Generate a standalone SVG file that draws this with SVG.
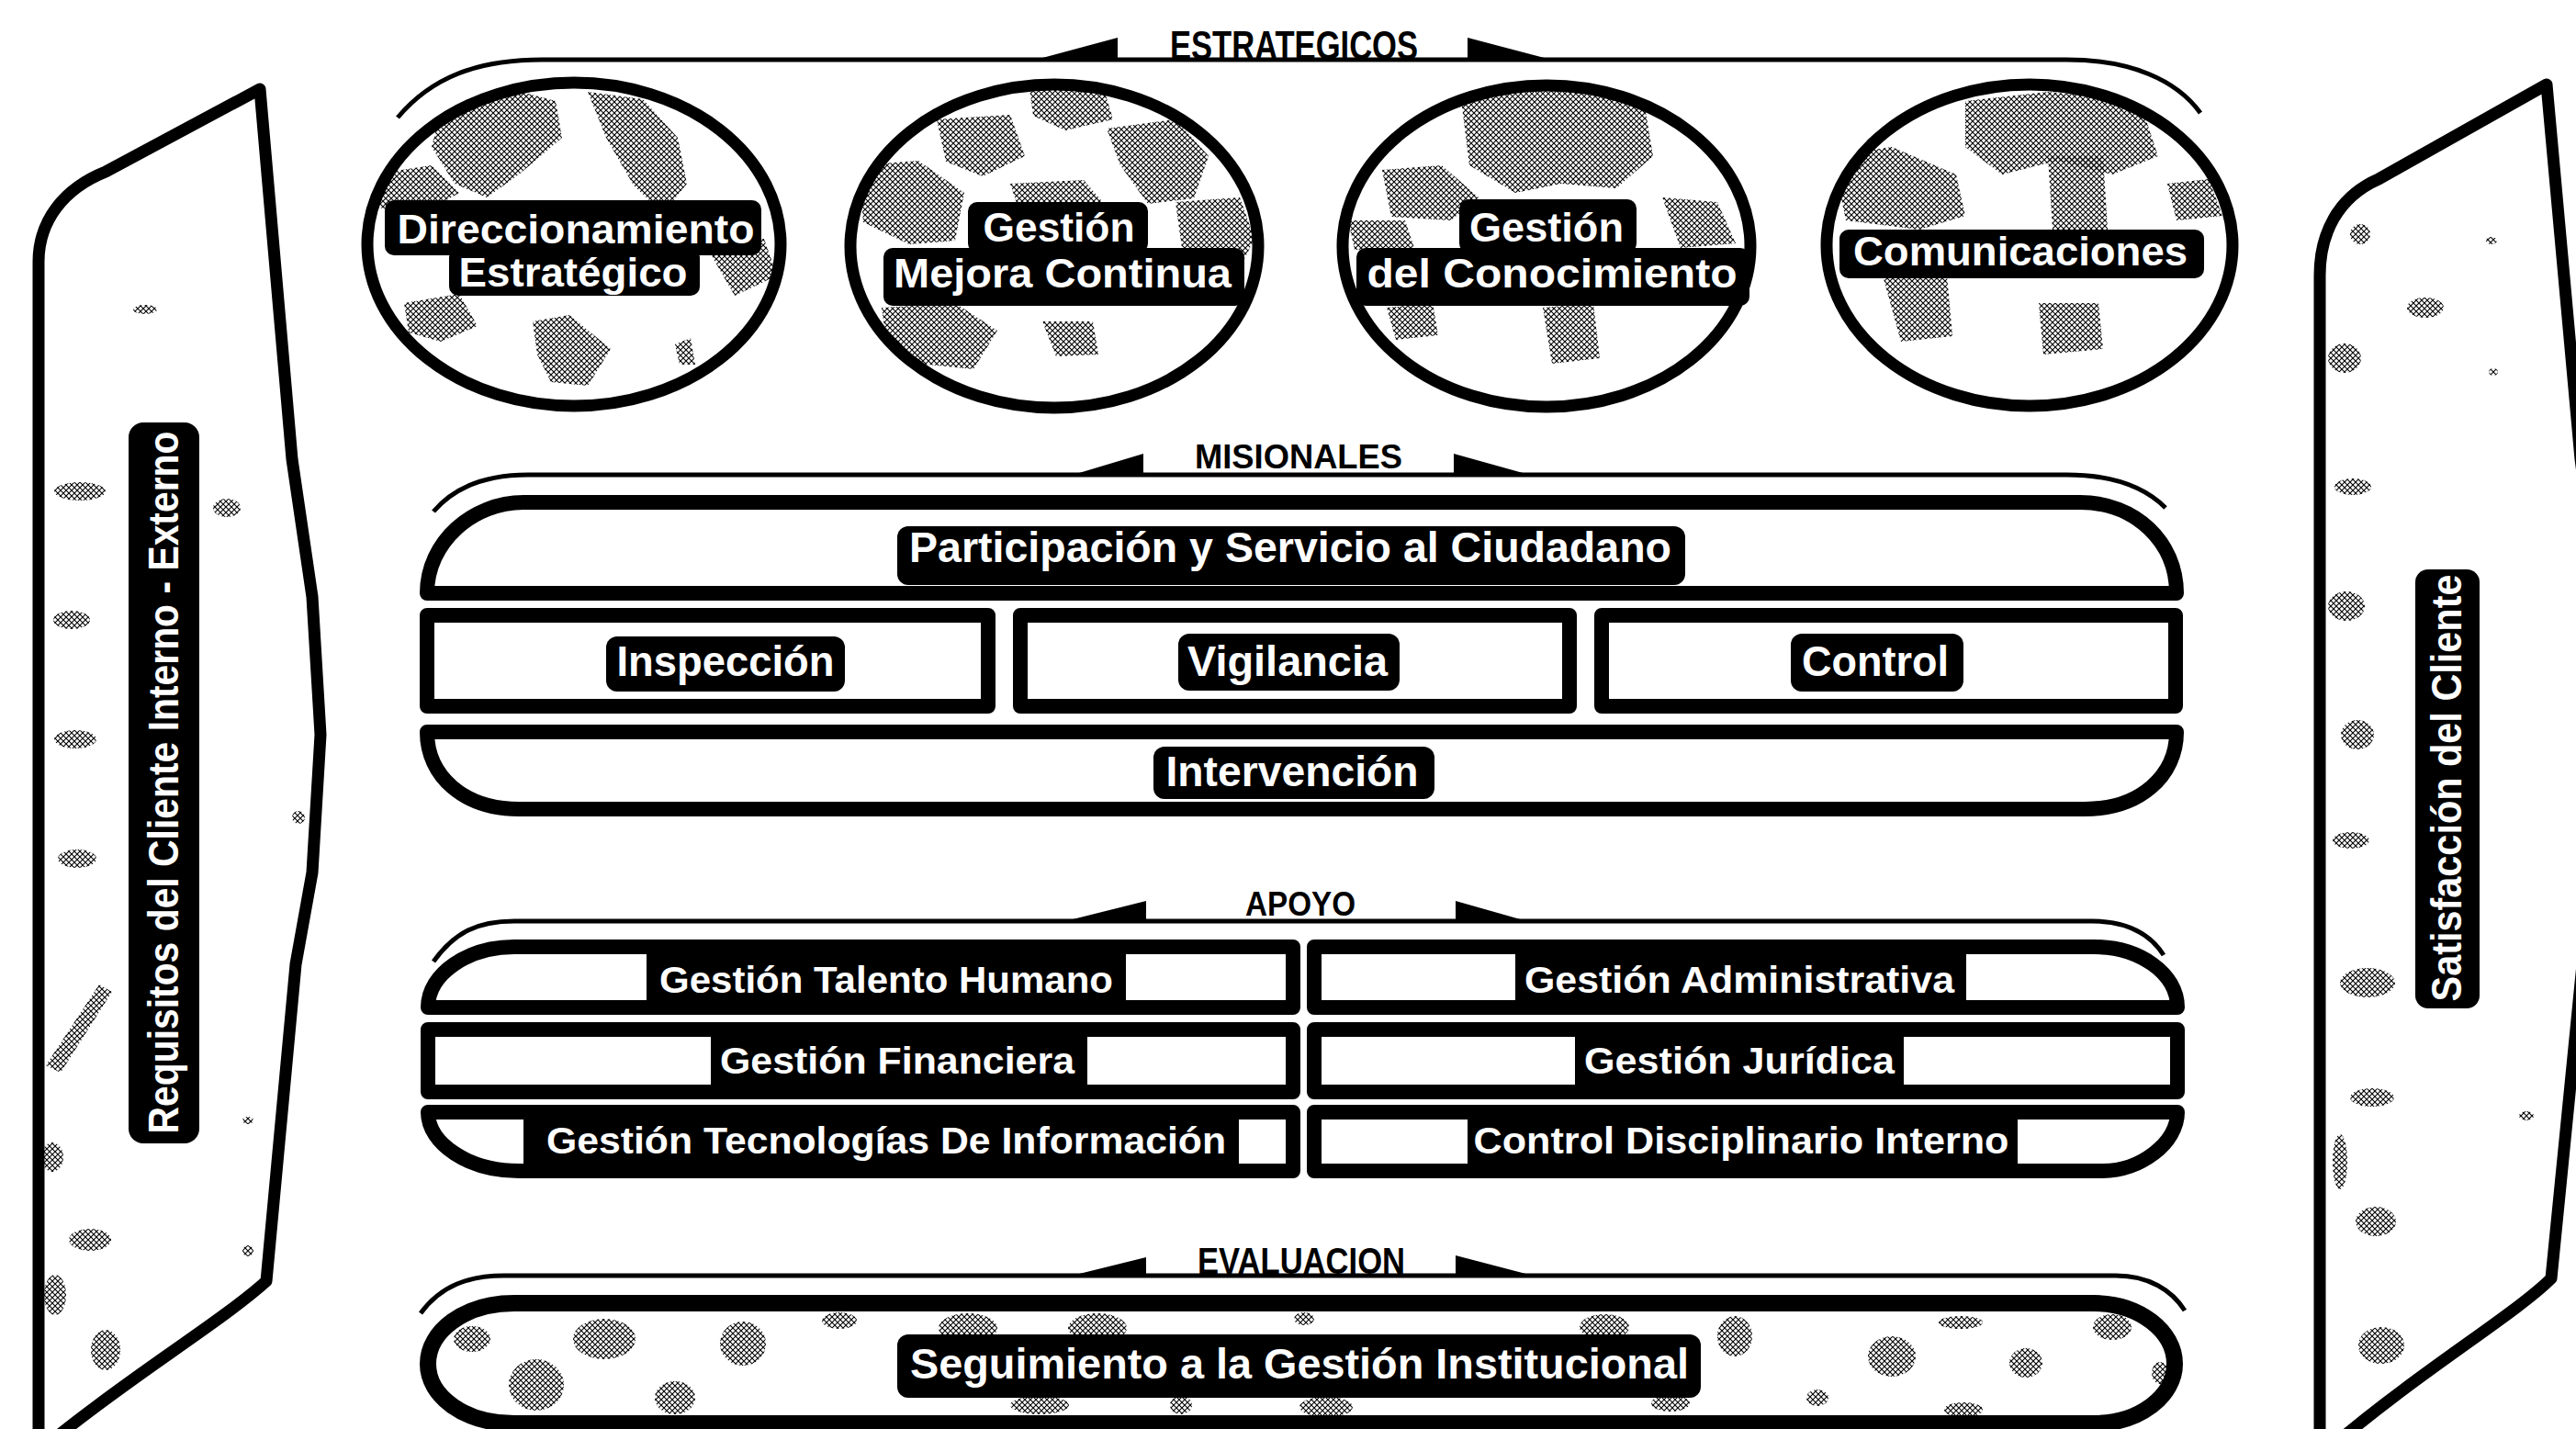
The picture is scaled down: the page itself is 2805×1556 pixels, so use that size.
<svg xmlns="http://www.w3.org/2000/svg" width="2805" height="1556" viewBox="0 0 2805 1556">
<defs>
<pattern id="dith" width="6" height="6" patternUnits="userSpaceOnUse"><path d="M0 0L6 6M6 0L0 6" stroke="#000" stroke-width="1.1"/></pattern>
<clipPath id="c1"><ellipse cx="625" cy="266" rx="225" ry="176"/></clipPath>
<clipPath id="c2"><ellipse cx="1148" cy="268" rx="222" ry="176"/></clipPath>
<clipPath id="c3"><ellipse cx="1684" cy="268" rx="222" ry="175"/></clipPath>
<clipPath id="c4"><ellipse cx="2210" cy="267" rx="221" ry="175"/></clipPath>
<clipPath id="cev"><path d="M560 1419 H2280 C2330 1419 2368 1450 2368 1485 C2368 1520 2330 1550 2280 1550 H560 C505 1550 466 1520 466 1485 C466 1450 505 1419 560 1419 Z"/></clipPath>
</defs>
<style>
.ds{fill:url(#dith)}
.bx{fill:#fff;stroke:#000;stroke-width:16;stroke-linejoin:round}
.ov{fill:none;stroke:#000;stroke-width:13}
.wf{fill:#fff}
.lb{fill:#000}
.t{font-family:"Liberation Sans",Arial,sans-serif;font-weight:700;fill:#fff;text-anchor:middle}
.f44{font-size:44px}
.f46{font-size:46px}
.f40{font-size:40px}
.s{font-family:"Liberation Sans",Arial,sans-serif;font-weight:700;fill:#000;text-anchor:middle}
.br{fill:none;stroke:#000;stroke-width:5}
.wg{fill:#000}
.side{fill:#fff;stroke:#000;stroke-width:13;stroke-linejoin:round}
</style>
<rect width="2805" height="1556" fill="#fff"/>

<!-- Left side: client requirements -->
<g id="cliente-requisitos">
<path class="side" d="M42 1570 V285 C42 240 70 205 115 187 L283 97 L318 500 L340 650 L349 800 L340 950 L322 1050 L290 1395 C240 1440 140 1500 55 1570"/>
<g class="ds">
<ellipse cx="87" cy="535" rx="28" ry="10"/><ellipse cx="78" cy="675" rx="20" ry="10"/><ellipse cx="82" cy="805" rx="23" ry="10"/><ellipse cx="84" cy="935" rx="21" ry="10"/>
<path d="M50 1160 L108 1072 L122 1080 L66 1168 Z"/><ellipse cx="57" cy="1260" rx="12" ry="16"/><ellipse cx="98" cy="1350" rx="23" ry="12"/><ellipse cx="60" cy="1410" rx="12" ry="22"/><ellipse cx="115" cy="1470" rx="16" ry="22"/>
<ellipse cx="158" cy="337" rx="13" ry="5"/><ellipse cx="247" cy="553" rx="15" ry="10"/><ellipse cx="325" cy="890" rx="7" ry="7"/><ellipse cx="270" cy="1220" rx="6" ry="4"/><ellipse cx="270" cy="1362" rx="6" ry="6"/>
</g>
<rect class="lb" x="140" y="460" width="77" height="785" rx="16"/>
<text class="t" font-size="46" textLength="765" lengthAdjust="spacingAndGlyphs" transform="translate(194 852) rotate(-90)">Requisitos del Cliente Interno - Externo</text>
</g>

<!-- Right side: client satisfaction -->
<g id="cliente-satisfaccion">
<path class="side" d="M2526 1570 V300 C2526 255 2545 215 2590 195 L2773 92 L2810 500 L2830 650 L2838 800 L2830 950 L2812 1050 L2778 1392 C2740 1430 2640 1490 2545 1570"/>
<g class="ds">
<ellipse cx="2553" cy="390" rx="18" ry="16"/><ellipse cx="2562" cy="530" rx="20" ry="9"/><ellipse cx="2555" cy="660" rx="20" ry="16"/><ellipse cx="2567" cy="800" rx="18" ry="16"/><ellipse cx="2560" cy="915" rx="20" ry="9"/>
<ellipse cx="2578" cy="1070" rx="30" ry="16"/><ellipse cx="2583" cy="1195" rx="24" ry="10"/><ellipse cx="2548" cy="1265" rx="8" ry="30"/><ellipse cx="2587" cy="1330" rx="22" ry="16"/><ellipse cx="2593" cy="1465" rx="25" ry="20"/>
<ellipse cx="2641" cy="335" rx="20" ry="11"/><ellipse cx="2570" cy="255" rx="11" ry="11"/><ellipse cx="2713" cy="262" rx="6" ry="4"/><ellipse cx="2751" cy="1215" rx="8" ry="5"/><ellipse cx="2715" cy="405" rx="5" ry="4"/>
</g>
<rect class="lb" x="2630" y="620" width="70" height="478" rx="14"/>
<text class="t" font-size="46" textLength="465" lengthAdjust="spacingAndGlyphs" transform="translate(2680 858) rotate(-90)">Satisfacción del Cliente</text>
</g>

<!-- Section brackets -->
<g id="connectors">
<path class="br" d="M433 128 C470 84 520 65 590 65 H2250 C2320 65 2370 87 2396 123"/>
<polygon class="wg" points="1124,66 1217,41 1217,66"/>
<polygon class="wg" points="1598,41 1598,66 1693,66"/>
<path class="br" d="M472 557 C495 530 530 517 575 517 H2250 C2300 517 2335 530 2358 553"/>
<polygon class="wg" points="1165,518 1245,494 1245,518"/>
<polygon class="wg" points="1583,494 1583,518 1669,518"/>
<path class="br" d="M472 1047 C495 1015 520 1003 560 1003 H2278 C2315 1003 2340 1015 2356 1040"/>
<polygon class="wg" points="1156,1004 1248,981 1248,1004"/>
<polygon class="wg" points="1585,981 1585,1004 1666,1004"/>
<path class="br" d="M458 1430 C480 1400 510 1389 549 1389 H2304 C2340 1389 2365 1405 2379 1427"/>
<polygon class="wg" points="1163,1390 1248,1369 1248,1390"/>
<polygon class="wg" points="1585,1367 1585,1390 1673,1390"/>
</g>

<!-- Section titles -->
<g id="titulos">
<text class="s" x="1409" y="65" font-size="44" textLength="270" lengthAdjust="spacingAndGlyphs">ESTRATEGICOS</text>
<text class="s" x="1414" y="510" font-size="36" textLength="226" lengthAdjust="spacingAndGlyphs">MISIONALES</text>
<text class="s" x="1416" y="997" font-size="36" textLength="120" lengthAdjust="spacingAndGlyphs">APOYO</text>
<text class="s" x="1417" y="1387" font-size="40" textLength="226" lengthAdjust="spacingAndGlyphs">EVALUACION</text>
</g>

<!-- Strategic processes -->
<g id="direccionamiento-estrategico">
<ellipse class="wf" cx="625" cy="266" rx="225" ry="176"/>
<g class="ds" clip-path="url(#c1)">
<polygon points="480,120 560,98 605,110 612,150 565,190 530,215 495,200 470,160"/>
<polygon points="640,100 700,108 738,150 748,200 722,232 690,202 660,150"/>
<polygon points="405,190 470,180 500,210 462,232 402,225"/>
<polygon points="580,350 620,343 665,380 640,420 600,416 585,386"/>
<polygon points="440,330 500,320 520,355 480,372 445,362"/>
<polygon points="770,270 832,260 846,300 800,322"/>
<polygon points="735,375 752,368 757,397 740,397"/>
</g>
<ellipse class="ov" cx="625" cy="266" rx="225" ry="176"/>
<rect class="lb" x="419" y="218" width="410" height="60" rx="10"/>
<rect class="lb" x="489" y="270" width="273" height="52" rx="10"/>
<text class="t f44" x="627" y="265" textLength="389" lengthAdjust="spacingAndGlyphs">Direccionamiento</text>
<text class="t f44" x="624" y="312" textLength="249" lengthAdjust="spacingAndGlyphs">Estratégico</text>
</g>

<g id="gestion-mejora-continua">
<ellipse class="wf" cx="1148" cy="268" rx="222" ry="176"/>
<g class="ds" clip-path="url(#c2)">
<polygon points="1120,88 1200,90 1212,130 1160,142 1125,126"/>
<polygon points="1020,130 1100,125 1116,170 1070,192 1030,176"/>
<polygon points="1205,140 1280,130 1316,170 1300,216 1250,222 1220,180"/>
<polygon points="935,180 1000,175 1050,210 1040,262 990,266 940,242"/>
<polygon points="960,335 1040,330 1086,360 1060,402 1000,396 965,370"/>
<polygon points="1135,350 1190,350 1196,386 1150,388"/>
<polygon points="1280,220 1350,215 1366,260 1345,302 1290,292"/>
<polygon points="1100,200 1180,196 1205,225 1110,230"/>
</g>
<ellipse class="ov" cx="1148" cy="268" rx="222" ry="176"/>
<rect class="lb" x="1054" y="220" width="196" height="55" rx="10"/>
<rect class="lb" x="962" y="270" width="393" height="63" rx="10"/>
<text class="t f44" x="1153" y="263" textLength="165" lengthAdjust="spacingAndGlyphs">Gestión</text>
<text class="t f44" x="1157" y="313" textLength="368" lengthAdjust="spacingAndGlyphs">Mejora Continua</text>
</g>

<g id="gestion-conocimiento">
<ellipse class="wf" cx="1684" cy="268" rx="222" ry="175"/>
<g class="ds" clip-path="url(#c3)">
<polygon points="1590,100 1700,92 1790,110 1800,170 1760,205 1700,200 1650,210 1600,180"/>
<polygon points="1505,185 1570,180 1610,215 1580,240 1515,236"/>
<polygon points="1810,215 1870,220 1890,265 1830,270"/>
<polygon points="1468,240 1530,240 1540,270 1475,272"/>
<polygon points="1680,335 1735,330 1742,390 1690,396"/>
<polygon points="1510,335 1560,330 1566,365 1520,370"/>
</g>
<ellipse class="ov" cx="1684" cy="268" rx="222" ry="175"/>
<rect class="lb" x="1589" y="217" width="193" height="58" rx="10"/>
<rect class="lb" x="1477" y="270" width="428" height="63" rx="10"/>
<text class="t f44" x="1684" y="263" textLength="168" lengthAdjust="spacingAndGlyphs">Gestión</text>
<text class="t f44" x="1690" y="313" textLength="403" lengthAdjust="spacingAndGlyphs">del Conocimiento</text>
</g>

<g id="comunicaciones">
<ellipse class="wf" cx="2210" cy="267" rx="221" ry="175"/>
<g class="ds" clip-path="url(#c4)">
<polygon points="2140,110 2230,100 2330,110 2350,170 2300,190 2240,175 2180,190 2140,160"/>
<polygon points="1995,170 2060,160 2130,190 2140,235 2090,250 2010,240"/>
<polygon points="2360,200 2405,195 2420,235 2370,240"/>
<polygon points="2230,170 2290,170 2295,250 2235,250"/>
<polygon points="2050,300 2120,300 2126,366 2070,372"/>
<polygon points="2220,330 2285,330 2290,380 2225,386"/>
</g>
<ellipse class="ov" cx="2210" cy="267" rx="221" ry="175"/>
<rect class="lb" x="2003" y="250" width="397" height="53" rx="10"/>
<text class="t f44" x="2200" y="289" textLength="364" lengthAdjust="spacingAndGlyphs">Comunicaciones</text>
</g>

<!-- Mission processes -->
<g id="participacion-servicio-ciudadano">
<path class="bx" d="M465 646 C465 590 515 547 570 547 H2265 C2325 547 2370 590 2370 646 Z"/>
<rect class="lb" x="977" y="573" width="858" height="64" rx="12"/>
<text class="t f46" x="1405" y="612" textLength="830" lengthAdjust="spacingAndGlyphs">Participación y Servicio al Ciudadano</text>
</g>
<g id="inspeccion">
<rect class="bx" x="465" y="670" width="611" height="99"/>
<rect class="lb" x="660" y="693" width="260" height="60" rx="12"/>
<text class="t f46" x="790" y="736" textLength="237" lengthAdjust="spacingAndGlyphs">Inspección</text>
</g>
<g id="vigilancia">
<rect class="bx" x="1111" y="670" width="598" height="99"/>
<rect class="lb" x="1283" y="690" width="241" height="62" rx="12"/>
<text class="t f46" x="1402" y="736" textLength="218" lengthAdjust="spacingAndGlyphs">Vigilancia</text>
</g>
<g id="control">
<rect class="bx" x="1744" y="670" width="625" height="99"/>
<rect class="lb" x="1950" y="690" width="188" height="63" rx="12"/>
<text class="t f46" x="2042" y="736" textLength="160" lengthAdjust="spacingAndGlyphs">Control</text>
</g>
<g id="intervencion">
<path class="bx" d="M465 797 H2370 C2370 845 2330 881 2270 881 H565 C505 881 465 845 465 797 Z"/>
<rect class="lb" x="1256" y="813" width="306" height="57" rx="12"/>
<text class="t f46" x="1407" y="856" textLength="275" lengthAdjust="spacingAndGlyphs">Intervención</text>
</g>

<!-- Support processes -->
<g id="gestion-talento-humano">
<path class="bx" d="M1408 1031 H560 C510 1031 466 1060 466 1097 H1408 Z"/>
<rect class="lb" x="704" y="1031" width="522" height="66"/>
<text class="t f40" x="965" y="1081" textLength="494" lengthAdjust="spacingAndGlyphs">Gestión Talento Humano</text>
</g>
<g id="gestion-financiera">
<rect class="bx" x="466" y="1121" width="942" height="68"/>
<rect class="lb" x="774" y="1121" width="410" height="68"/>
<text class="t f40" x="977" y="1169" textLength="386" lengthAdjust="spacingAndGlyphs">Gestión Financiera</text>
</g>
<g id="gestion-tecnologias-informacion">
<path class="bx" d="M1408 1211 H466 C466 1245 510 1275 565 1275 H1408 Z"/>
<rect class="lb" x="570" y="1211" width="779" height="64"/>
<text class="t f40" x="965" y="1256" textLength="740" lengthAdjust="spacingAndGlyphs">Gestión Tecnologías De Información</text>
</g>
<g id="gestion-administrativa">
<path class="bx" d="M1431 1031 H2280 C2330 1031 2371 1060 2371 1097 H1431 Z"/>
<rect class="lb" x="1650" y="1031" width="491" height="66"/>
<text class="t f40" x="1894" y="1081" textLength="468" lengthAdjust="spacingAndGlyphs">Gestión Administrativa</text>
</g>
<g id="gestion-juridica">
<rect class="bx" x="1431" y="1121" width="940" height="68"/>
<rect class="lb" x="1715" y="1121" width="358" height="68"/>
<text class="t f40" x="1894" y="1169" textLength="338" lengthAdjust="spacingAndGlyphs">Gestión Jurídica</text>
</g>
<g id="control-disciplinario-interno">
<path class="bx" d="M1431 1211 H2371 C2371 1245 2330 1275 2290 1275 H1431 Z"/>
<rect class="lb" x="1598" y="1211" width="599" height="64"/>
<text class="t f40" x="1896" y="1256" textLength="583" lengthAdjust="spacingAndGlyphs">Control Disciplinario Interno</text>
</g>

<!-- Evaluation -->
<g id="seguimiento-gestion-institucional">
<path class="wf" d="M560 1419 H2280 C2330 1419 2368 1450 2368 1485 C2368 1520 2330 1550 2280 1550 H560 C505 1550 466 1520 466 1485 C466 1450 505 1419 560 1419 Z"/>
<g class="ds" clip-path="url(#cev)">
<ellipse cx="514" cy="1458" rx="20" ry="14"/><ellipse cx="658" cy="1458" rx="34" ry="22"/><ellipse cx="584" cy="1508" rx="30" ry="28"/><ellipse cx="735" cy="1522" rx="22" ry="18"/>
<ellipse cx="809" cy="1463" rx="25" ry="24"/><ellipse cx="914" cy="1438" rx="19" ry="9"/><ellipse cx="1054" cy="1446" rx="32" ry="16"/><ellipse cx="1195" cy="1446" rx="32" ry="16"/>
<ellipse cx="1420" cy="1436" rx="11" ry="7"/><ellipse cx="1132" cy="1530" rx="32" ry="10"/><ellipse cx="1286" cy="1530" rx="12" ry="10"/><ellipse cx="1444" cy="1532" rx="29" ry="11"/>
<ellipse cx="1747" cy="1445" rx="27" ry="14"/><ellipse cx="1889" cy="1455" rx="19" ry="22"/><ellipse cx="2060" cy="1477" rx="26" ry="22"/><ellipse cx="2206" cy="1484" rx="18" ry="16"/>
<ellipse cx="2135" cy="1440" rx="24" ry="7"/><ellipse cx="1979" cy="1522" rx="12" ry="9"/><ellipse cx="2138" cy="1535" rx="21" ry="8"/><ellipse cx="1819" cy="1528" rx="21" ry="9"/>
<ellipse cx="2300" cy="1445" rx="21" ry="14"/><ellipse cx="2352" cy="1495" rx="9" ry="12"/>
</g>
<path style="fill:none;stroke:#000;stroke-width:18" d="M560 1419 H2280 C2330 1419 2368 1450 2368 1485 C2368 1520 2330 1550 2280 1550 H560 C505 1550 466 1520 466 1485 C466 1450 505 1419 560 1419 Z"/>
<rect class="lb" x="977" y="1453" width="875" height="69" rx="12"/>
<text class="t f46" x="1415" y="1501" textLength="848" lengthAdjust="spacingAndGlyphs">Seguimiento a la Gestión Institucional</text>
</g>
</svg>
